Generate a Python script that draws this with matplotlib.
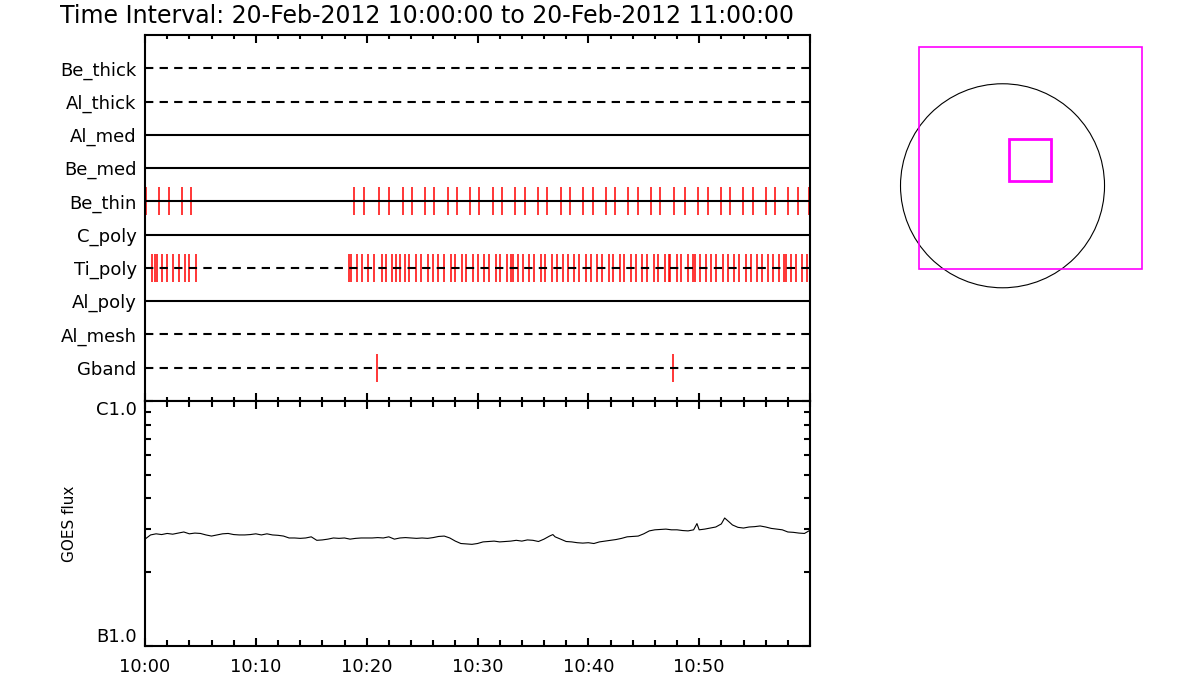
import numpy as np
import matplotlib
matplotlib.use('Agg')
import matplotlib.pyplot as plt
from matplotlib.patches import Rectangle, Circle
from matplotlib.ticker import FixedLocator, MultipleLocator, LogLocator, NullFormatter

TITLE = 'Time Interval: 20-Feb-2012 10:00:00 to 20-Feb-2012 11:00:00'

# filter rows, top to bottom
filter_names = ['Be_thick', 'Al_thick', 'Al_med', 'Be_med', 'Be_thin',
                'C_poly', 'Ti_poly', 'Al_poly', 'Al_mesh', 'Gband']
filter_solid = [False, False, True, True, True, True, False, True, False, False]

# exposure times in minutes after 10:00
be_thin_times = [0.12, 1.29, 2.19, 3.37, 4.18,
                 18.90, 19.80, 21.07, 21.97, 23.27, 24.08, 25.22, 26.12, 27.30, 28.11,
                 29.28, 30.18, 31.36, 32.17, 33.35, 34.25, 35.42, 36.24, 37.50, 38.31,
                 39.49, 40.39, 41.56, 42.38, 43.55, 44.45, 45.63, 46.44, 47.70, 48.69,
                 49.87, 50.77, 51.95, 52.76, 53.93, 54.84, 56.01, 56.82, 57.99, 58.90, 59.95]
ti_poly_times = [0.02, 0.60, 0.93, 1.11, 1.56, 2.01, 2.56, 3.05, 3.64, 4.00, 4.63,
                 18.45, 18.60, 19.17, 19.62, 20.16, 20.66, 21.34, 21.70, 22.33, 22.69,
                 23.00, 23.45, 23.86, 24.41, 24.92, 25.49, 25.94, 26.48, 26.98, 27.57,
                 27.93, 28.56, 28.98, 29.55, 30.00, 30.55, 31.06, 31.63, 31.99, 32.62,
                 32.98, 33.17, 33.62, 34.07, 34.61, 35.12, 35.69, 36.05, 36.69, 37.20,
                 37.68, 38.13, 38.67, 39.12, 39.76, 40.21, 40.75, 41.26, 41.83, 42.19,
                 42.83, 43.25, 43.82, 44.27, 44.81, 45.33, 45.90, 46.26, 46.89, 47.25,
                 47.34, 47.97, 48.33, 48.97, 49.42, 49.60, 50.05, 50.59, 51.04, 51.56,
                 52.13, 52.58, 53.12, 53.63, 54.20, 54.65, 55.20, 55.71, 56.19, 56.64,
                 57.18, 57.63, 57.81, 58.27, 58.78, 59.26, 59.71]
gband_times = [20.90, 47.65]

# GOES flux, units of 1e-7 W/m^2
goes_minutes = [0.0, 0.5, 1.0, 1.5, 2.0, 2.5, 3.0, 3.5, 4.0, 4.5, 5.0, 5.5, 6.0, 6.5,
                7.0, 7.5, 8.0, 8.5, 9.0, 9.5, 10.0, 10.5, 11.0, 11.5, 12.0, 12.5, 13.0,
                13.5, 14.0, 14.5, 15.0, 15.5, 16.0, 16.5, 17.0, 17.5, 18.0, 18.5, 19.0,
                19.5, 20.0, 20.5, 21.0, 21.5, 22.0, 22.5, 23.0, 23.5, 24.0, 24.5, 25.0,
                25.5, 26.0, 26.5, 27.0, 27.5, 28.0, 28.5, 29.0, 29.5, 30.0, 30.5, 31.0,
                31.5, 32.0, 32.5, 33.0, 33.5, 34.0, 34.5, 35.0, 35.5, 36.0, 36.5, 36.8,
                37.0, 37.5, 38.0, 38.5, 39.0, 39.5, 40.0, 40.5, 41.0, 41.5, 42.0, 42.5,
                43.0, 43.5, 44.0, 44.5, 45.0, 45.5, 46.0, 46.5, 47.0, 47.5, 48.0, 48.5,
                49.0, 49.5, 49.8, 50.0, 50.5, 51.0, 51.5, 52.0, 52.3, 52.7, 53.0, 53.5,
                54.0, 54.5, 55.0, 55.5, 56.0, 56.5, 57.0, 57.5, 58.0, 58.5, 59.0, 59.5, 59.9]
goes_flux = [2.73, 2.84, 2.87, 2.85, 2.88, 2.86, 2.89, 2.92, 2.87, 2.89, 2.88, 2.84, 2.81, 2.84,
             2.87, 2.88, 2.85, 2.84, 2.84, 2.85, 2.87, 2.84, 2.87, 2.84, 2.83, 2.81, 2.76,
             2.76, 2.75, 2.76, 2.79, 2.70, 2.71, 2.73, 2.76, 2.75, 2.76, 2.73, 2.75,
             2.76, 2.76, 2.76, 2.77, 2.76, 2.79, 2.73, 2.76, 2.77, 2.76, 2.75, 2.76,
             2.75, 2.77, 2.80, 2.81, 2.76, 2.68, 2.62, 2.61, 2.60, 2.62, 2.66, 2.67,
             2.68, 2.66, 2.67, 2.68, 2.70, 2.68, 2.71, 2.70, 2.67, 2.73, 2.81, 2.85,
             2.79, 2.73, 2.67, 2.66, 2.64, 2.63, 2.64, 2.62, 2.66, 2.68, 2.70, 2.72,
             2.75, 2.79, 2.80, 2.81, 2.87, 2.95, 2.98, 2.99, 3.00, 2.98, 2.98, 2.96,
             2.95, 2.98, 3.16, 2.98, 3.00, 3.03, 3.06, 3.15, 3.33, 3.21, 3.12, 3.05,
             3.03, 3.06, 3.07, 3.09, 3.06, 3.02, 3.00, 2.98, 2.92, 2.91, 2.89, 2.88, 2.95]

time_ticks = [0, 10, 20, 30, 40, 50]
time_labels = ['10:00', '10:10', '10:20', '10:30', '10:40', '10:50']
flux_ticks = [1e-7, 1e-6]
flux_labels = ['B1.0', 'C1.0']

# pointing panel, arcsec
disk_radius = 960
fov_center = (263, 259)
fov_size = 2090
img_center = (263, 245)
img_size = 395

exposures = {'Be_thin': be_thin_times, 'Ti_poly': ti_poly_times, 'Gband': gband_times}

fig = plt.figure(figsize=(12, 7), dpi=100)
W, H = 1200, 700

ax_top = fig.add_axes([145 / W, 1 - 401 / H, 665 / W, 366 / H])
ax_bot = fig.add_axes([145 / W, 1 - 646 / H, 665 / W, 245 / H])
ax_sun = fig.add_axes([880 / W, 1 - 305 / H, 280 / W, 280 / H])

fig.text(60 / W, 1 - 16 / H, TITLE, ha='left', va='center', fontsize=17)

# filter timeline
n = len(filter_names)
for i, name in enumerate(filter_names):
    y = n - i
    if name in exposures:
        ax_top.vlines(exposures[name], y - 0.42, y + 0.42, color='red', lw=1.1, zorder=2)
    ls = '-' if filter_solid[i] else (0, (4, 3))
    ax_top.plot([0, 60], [y, y], color='black', lw=1.5, ls=ls, zorder=3)

ax_top.set_xlim(0, 60)
ax_top.set_ylim(0, n + 1)
ax_top.set_yticks(range(n, 0, -1))
ax_top.set_yticklabels(filter_names, fontsize=13)
ax_top.tick_params(axis='y', length=0, pad=6)
ax_top.xaxis.set_major_locator(MultipleLocator(10))
ax_top.xaxis.set_minor_locator(MultipleLocator(2))
ax_top.tick_params(axis='x', which='both', direction='in', top=True, bottom=True,
                   labelbottom=False, width=1.5)
ax_top.tick_params(axis='x', which='major', length=6)
ax_top.tick_params(axis='x', which='minor', length=3)

# GOES panel
ax_bot.plot(goes_minutes, np.array(goes_flux) * 1e-7, color='black', lw=0.8)
ax_bot.set_yscale('log')
ax_bot.set_ylim(1e-7, 1e-6)
ax_bot.set_xlim(0, 60)
ax_bot.yaxis.set_major_locator(FixedLocator(flux_ticks))
ax_bot.set_yticklabels(flux_labels, fontsize=13)
ylabs = ax_bot.get_yticklabels()
ylabs[0].set_va('bottom')
ylabs[1].set_va('top')
ax_bot.yaxis.set_minor_locator(LogLocator(base=10, subs=np.arange(2, 10)))
ax_bot.yaxis.set_minor_formatter(NullFormatter())
ax_bot.set_xticks(time_ticks)
ax_bot.set_xticklabels(time_labels, fontsize=13)
ax_bot.xaxis.set_minor_locator(MultipleLocator(2))
ax_bot.tick_params(which='both', direction='in', top=True, right=True, width=1.5)
ax_bot.tick_params(which='major', length=6)
ax_bot.tick_params(axis='x', which='major', pad=9)
ax_bot.tick_params(axis='y', which='major', pad=6)
ax_bot.tick_params(which='minor', length=4)
ax_bot.set_ylabel('GOES flux', fontsize=11)
ax_bot.yaxis.set_label_coords(-0.103, 0.5)

for ax in (ax_top, ax_bot):
    for sp in ax.spines.values():
        sp.set_linewidth(1.5)

# pointing panel
ax_sun.add_patch(Circle((0, 0), disk_radius, fill=False, ec='black', lw=0.8))
ax_sun.add_patch(Rectangle((fov_center[0] - fov_size / 2, fov_center[1] - fov_size / 2),
                           fov_size, fov_size, fill=False, ec='#ff00ff', lw=1.2))
ax_sun.add_patch(Rectangle((img_center[0] - img_size / 2, img_center[1] - img_size / 2),
                           img_size, img_size, fill=False, ec='#ff00ff', lw=2))
ax_sun.set_xlim(-1153, 1482)
ax_sun.set_ylim(-1122, 1513)
ax_sun.set_aspect('equal')
ax_sun.axis('off')

fig.savefig('out.png', dpi=100)
